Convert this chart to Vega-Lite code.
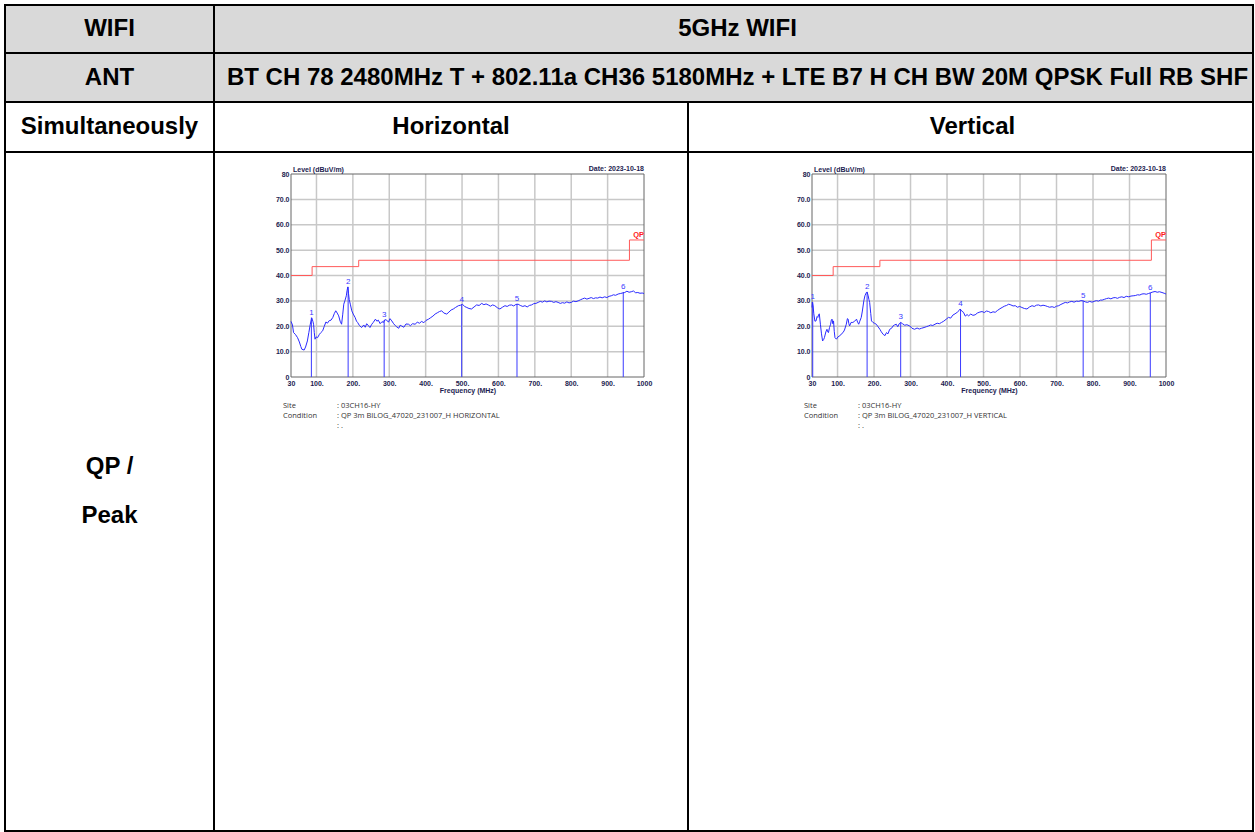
{
  "$schema": "https://vega.github.io/schema/vega-lite/v6.json",
  "padding": {"left": 4, "top": 4, "right": 0, "bottom": 0},
  "spacing": 0,
  "columns": 2,
  "bounds": "flush",
  "align": "each",
  "config": {
    "view": {"stroke": "#000000", "strokeWidth": 2},
    "concat": {"spacing": 0},
    "text": {"font": "Liberation Sans", "fontWeight": "bold", "fontSize": 24, "color": "#000000"},
    "axis": {"labelFont": "Liberation Sans", "labelFontWeight": "bold", "labelFontSize": 7, "labelColor": "#1c1c50", "ticks": false, "domain": false, "grid": false, "labelPadding": 2, "labelOverlap": false, "labelFlush": false, "titleFont": "Liberation Sans", "titleFontWeight": "bold", "titleFontSize": 7, "titleColor": "#1c1c50", "titlePadding": 0}
  },
  "datasets": {
    "limit": [
      {"f": 30, "v": 40}, {"f": 88, "v": 43.5}, {"f": 216, "v": 46}, {"f": 960, "v": 54}, {"f": 1000, "v": 54}
    ],
    "xgrid": [{"f": 100}, {"f": 200}, {"f": 300}, {"f": 400}, {"f": 500}, {"f": 600}, {"f": 700}, {"f": 800}, {"f": 900}],
    "ygrid": [{"v": 10}, {"v": 20}, {"v": 30}, {"v": 40}, {"v": 50}, {"v": 60}, {"v": 70}],
    "h_markers": [
      {"n": "1", "f": 86, "v": 23.4}, {"n": "2", "f": 187, "v": 35.5}, {"n": "3", "f": 286, "v": 22.4},
      {"n": "4", "f": 499, "v": 28.5}, {"n": "5", "f": 651, "v": 28.8}, {"n": "6", "f": 943, "v": 33.5}
    ],
    "v_markers": [
      {"n": "1", "f": 32, "v": 29.5}, {"n": "2", "f": 181, "v": 33.5}, {"n": "3", "f": 273, "v": 21.5},
      {"n": "4", "f": 437, "v": 26.8}, {"n": "5", "f": 773, "v": 30.0}, {"n": "6", "f": 957, "v": 33.2}
    ],
    "h_trace": [
      {"f":30,"v":21.9},{"f":34,"v":20.5},{"f":37,"v":17.5},{"f":42,"v":16.8},{"f":48,"v":15.5},{"f":53,"v":13.8},{"f":57,"v":12.0},{"f":60,"v":10.9},{"f":63,"v":10.8},{"f":66,"v":10.6},{"f":70,"v":11.8},{"f":75,"v":14.2},{"f":79,"v":17.5},{"f":83,"v":20.8},{"f":87,"v":23.3},{"f":90,"v":22.0},{"f":92,"v":20.8},{"f":94,"v":17.5},{"f":96,"v":14.9},{"f":99,"v":15.8},{"f":103,"v":15.5},{"f":108,"v":16.8},{"f":112,"v":17.5},{"f":117,"v":18.2},{"f":121,"v":19.8},{"f":126,"v":21.7},{"f":130,"v":21.2},{"f":135,"v":22.2},{"f":140,"v":22.4},{"f":145,"v":23.5},{"f":149,"v":25.0},{"f":153,"v":26.1},{"f":157,"v":25.2},{"f":161,"v":24.1},{"f":165,"v":22.0},{"f":169,"v":20.8},{"f":172,"v":24.5},{"f":175,"v":28.7},{"f":178,"v":30.0},{"f":182,"v":32.0},{"f":184,"v":34.0},{"f":186,"v":35.5},{"f":188,"v":33.0},{"f":190,"v":30.5},{"f":193,"v":28.7},{"f":197,"v":26.1},{"f":201,"v":24.8},{"f":206,"v":23.5},{"f":210,"v":22.0},{"f":213,"v":21.5},{"f":218,"v":20.3},{"f":224,"v":19.5},{"f":230,"v":20.5},{"f":234,"v":19.6},{"f":238,"v":21.0},{"f":243,"v":20.2},{"f":247,"v":19.5},{"f":252,"v":20.8},{"f":256,"v":21.5},{"f":262,"v":22.8},{"f":266,"v":22.0},{"f":270,"v":22.4},{"f":275,"v":21.0},{"f":280,"v":21.8},{"f":284,"v":21.5},{"f":288,"v":22.6},{"f":293,"v":22.4},{"f":298,"v":21.6},{"f":302,"v":23.0},{"f":307,"v":22.1},{"f":312,"v":21.0},{"f":317,"v":20.2},{"f":321,"v":19.7},{"f":326,"v":19.2},{"f":330,"v":20.4},{"f":334,"v":20.1},{"f":340,"v":19.6},{"f":346,"v":20.9},{"f":353,"v":20.8},{"f":358,"v":20.2},{"f":364,"v":21.0},{"f":371,"v":20.8},{"f":377,"v":21.6},{"f":383,"v":21.2},{"f":389,"v":21.9},{"f":395,"v":21.4},{"f":401,"v":22.3},{"f":408,"v":22.8},{"f":414,"v":23.4},{"f":420,"v":24.0},{"f":426,"v":24.8},{"f":432,"v":25.3},{"f":438,"v":25.8},{"f":444,"v":26.1},{"f":450,"v":25.2},{"f":458,"v":24.8},{"f":464,"v":25.6},{"f":470,"v":26.4},{"f":476,"v":26.8},{"f":482,"v":27.4},{"f":490,"v":28.1},{"f":496,"v":28.3},{"f":501,"v":28.7},{"f":507,"v":27.8},{"f":513,"v":27.4},{"f":519,"v":27.0},{"f":526,"v":26.8},{"f":533,"v":27.6},{"f":540,"v":28.4},{"f":547,"v":28.2},{"f":554,"v":29.0},{"f":560,"v":28.5},{"f":566,"v":28.8},{"f":572,"v":28.4},{"f":578,"v":27.9},{"f":584,"v":28.4},{"f":590,"v":28.1},{"f":597,"v":27.3},{"f":604,"v":26.8},{"f":611,"v":27.5},{"f":618,"v":28.1},{"f":624,"v":27.8},{"f":630,"v":28.3},{"f":636,"v":28.4},{"f":642,"v":28.0},{"f":648,"v":28.6},{"f":654,"v":28.7},{"f":660,"v":28.2},{"f":667,"v":27.8},{"f":673,"v":28.1},{"f":679,"v":27.6},{"f":685,"v":28.2},{"f":691,"v":28.4},{"f":697,"v":28.9},{"f":703,"v":29.0},{"f":709,"v":29.4},{"f":715,"v":29.8},{"f":721,"v":29.5},{"f":727,"v":30.0},{"f":733,"v":29.6},{"f":739,"v":29.9},{"f":746,"v":29.8},{"f":752,"v":29.4},{"f":758,"v":29.7},{"f":764,"v":29.4},{"f":770,"v":29.0},{"f":776,"v":29.3},{"f":782,"v":29.1},{"f":788,"v":29.6},{"f":794,"v":29.2},{"f":800,"v":29.4},{"f":806,"v":29.9},{"f":813,"v":29.7},{"f":819,"v":30.0},{"f":825,"v":30.4},{"f":831,"v":30.8},{"f":837,"v":31.1},{"f":843,"v":30.7},{"f":849,"v":31.0},{"f":855,"v":31.3},{"f":861,"v":30.9},{"f":867,"v":31.2},{"f":873,"v":31.1},{"f":879,"v":31.5},{"f":885,"v":31.2},{"f":892,"v":31.6},{"f":898,"v":31.3},{"f":904,"v":31.8},{"f":910,"v":32.0},{"f":916,"v":32.4},{"f":922,"v":32.2},{"f":929,"v":32.7},{"f":935,"v":32.9},{"f":941,"v":33.1},{"f":947,"v":33.3},{"f":953,"v":33.8},{"f":959,"v":33.4},{"f":965,"v":33.6},{"f":971,"v":33.9},{"f":977,"v":33.2},{"f":983,"v":33.3},{"f":989,"v":33.0},{"f":995,"v":33.1},{"f":1000,"v":32.9}
    ],
    "v_trace": [
      {"f":30,"v":27.4},{"f":31,"v":29.5},{"f":33,"v":28.0},{"f":35,"v":24.9},{"f":38,"v":22.0},{"f":41,"v":22.1},{"f":44,"v":23.8},{"f":46,"v":23.5},{"f":48,"v":24.5},{"f":50,"v":24.9},{"f":53,"v":20.8},{"f":56,"v":17.0},{"f":59,"v":14.2},{"f":62,"v":14.8},{"f":64,"v":15.5},{"f":68,"v":17.8},{"f":71,"v":18.8},{"f":73,"v":17.8},{"f":75,"v":17.5},{"f":78,"v":19.5},{"f":81,"v":20.8},{"f":83,"v":22.5},{"f":85,"v":22.8},{"f":87,"v":21.0},{"f":89,"v":22.1},{"f":91,"v":18.0},{"f":93,"v":15.5},{"f":97,"v":14.9},{"f":101,"v":15.8},{"f":106,"v":16.2},{"f":110,"v":16.9},{"f":115,"v":17.5},{"f":119,"v":18.5},{"f":124,"v":20.8},{"f":127,"v":23.0},{"f":129,"v":22.8},{"f":131,"v":21.0},{"f":133,"v":20.1},{"f":137,"v":21.5},{"f":142,"v":21.5},{"f":147,"v":22.0},{"f":152,"v":22.8},{"f":155,"v":21.6},{"f":158,"v":20.8},{"f":161,"v":22.0},{"f":165,"v":23.5},{"f":168,"v":26.0},{"f":172,"v":30.0},{"f":175,"v":32.0},{"f":179,"v":33.3},{"f":181,"v":33.5},{"f":184,"v":32.0},{"f":186,"v":30.5},{"f":188,"v":29.4},{"f":191,"v":25.0},{"f":193,"v":22.1},{"f":197,"v":21.5},{"f":201,"v":21.2},{"f":206,"v":20.8},{"f":211,"v":19.8},{"f":216,"v":18.8},{"f":220,"v":17.8},{"f":225,"v":16.8},{"f":230,"v":16.3},{"f":234,"v":17.5},{"f":238,"v":17.0},{"f":243,"v":18.8},{"f":248,"v":19.2},{"f":252,"v":20.1},{"f":256,"v":20.5},{"f":261,"v":20.8},{"f":265,"v":19.8},{"f":269,"v":21.0},{"f":273,"v":21.5},{"f":278,"v":21.0},{"f":284,"v":20.4},{"f":290,"v":20.6},{"f":298,"v":20.1},{"f":304,"v":19.2},{"f":311,"v":18.8},{"f":318,"v":19.3},{"f":324,"v":18.9},{"f":330,"v":19.2},{"f":337,"v":19.5},{"f":343,"v":19.8},{"f":349,"v":20.1},{"f":355,"v":20.5},{"f":361,"v":20.3},{"f":367,"v":20.8},{"f":373,"v":21.2},{"f":379,"v":21.0},{"f":385,"v":21.5},{"f":391,"v":22.0},{"f":398,"v":22.8},{"f":404,"v":23.5},{"f":410,"v":23.2},{"f":416,"v":24.4},{"f":422,"v":24.9},{"f":428,"v":25.5},{"f":433,"v":26.2},{"f":436,"v":26.8},{"f":440,"v":26.0},{"f":445,"v":25.5},{"f":450,"v":24.0},{"f":455,"v":24.6},{"f":459,"v":24.1},{"f":465,"v":24.8},{"f":471,"v":24.3},{"f":477,"v":24.5},{"f":483,"v":25.2},{"f":490,"v":25.6},{"f":496,"v":25.8},{"f":502,"v":25.4},{"f":508,"v":26.0},{"f":514,"v":25.8},{"f":520,"v":25.3},{"f":526,"v":25.7},{"f":532,"v":25.5},{"f":538,"v":26.2},{"f":545,"v":26.9},{"f":551,"v":27.4},{"f":557,"v":27.9},{"f":563,"v":28.2},{"f":569,"v":28.7},{"f":575,"v":28.4},{"f":581,"v":28.0},{"f":587,"v":28.1},{"f":593,"v":27.5},{"f":599,"v":27.8},{"f":605,"v":27.4},{"f":612,"v":27.0},{"f":619,"v":26.8},{"f":626,"v":27.6},{"f":633,"v":28.1},{"f":639,"v":27.8},{"f":645,"v":28.3},{"f":651,"v":28.4},{"f":657,"v":28.0},{"f":663,"v":28.3},{"f":669,"v":28.1},{"f":675,"v":27.8},{"f":681,"v":27.5},{"f":688,"v":27.7},{"f":694,"v":27.4},{"f":700,"v":27.9},{"f":706,"v":28.1},{"f":712,"v":28.6},{"f":718,"v":29.0},{"f":724,"v":29.4},{"f":730,"v":29.2},{"f":736,"v":29.6},{"f":742,"v":29.8},{"f":748,"v":29.5},{"f":755,"v":29.9},{"f":761,"v":29.8},{"f":767,"v":30.1},{"f":773,"v":30.0},{"f":779,"v":29.6},{"f":785,"v":29.4},{"f":791,"v":29.8},{"f":797,"v":29.5},{"f":803,"v":29.8},{"f":809,"v":30.1},{"f":815,"v":29.9},{"f":820,"v":30.3},{"f":825,"v":30.3},{"f":831,"v":30.6},{"f":837,"v":30.9},{"f":843,"v":31.1},{"f":849,"v":30.8},{"f":855,"v":31.2},{"f":861,"v":31.3},{"f":867,"v":31.0},{"f":873,"v":31.4},{"f":879,"v":31.6},{"f":885,"v":31.3},{"f":891,"v":31.8},{"f":898,"v":31.6},{"f":904,"v":31.9},{"f":910,"v":32.0},{"f":916,"v":32.1},{"f":922,"v":32.4},{"f":928,"v":32.3},{"f":934,"v":32.7},{"f":940,"v":32.8},{"f":946,"v":32.6},{"f":952,"v":32.9},{"f":958,"v":33.2},{"f":964,"v":33.5},{"f":970,"v":33.7},{"f":976,"v":33.4},{"f":982,"v":33.6},{"f":989,"v":33.3},{"f":995,"v":33.0},{"f":1000,"v":32.7}
    ]
  },
  "concat": [
    {"width": 209, "height": 48, "view": {"fill": "#d9d9d9", "stroke": "#000000", "strokeWidth": 2}, "data": {"values": [{"t": "WIFI"}]}, "mark": {"type": "text"}, "encoding": {"text": {"field": "t"}}},
    {"width": 1039, "height": 48, "view": {"fill": "#d9d9d9", "stroke": "#000000", "strokeWidth": 2}, "data": {"values": [{"t": "5GHz WIFI"}]}, "mark": {"type": "text", "dx": 4}, "encoding": {"text": {"field": "t"}}},
    {"width": 209, "height": 49, "view": {"fill": "#d9d9d9", "stroke": "#000000", "strokeWidth": 2}, "data": {"values": [{"t": "ANT"}]}, "mark": {"type": "text"}, "encoding": {"text": {"field": "t"}}},
    {"width": 1039, "height": 49, "view": {"fill": "#d9d9d9", "stroke": "#000000", "strokeWidth": 2}, "data": {"values": [{"t": "BT CH 78 2480MHz T + 802.11a CH36 5180MHz + LTE B7 H CH BW 20M QPSK Full RB SHF"}]}, "mark": {"type": "text", "dx": 4}, "encoding": {"text": {"field": "t"}}},
    {"width": 209, "height": 50, "view": {"stroke": "#000000", "strokeWidth": 2}, "data": {"values": [{"t": "Simultaneously"}]}, "mark": {"type": "text"}, "encoding": {"text": {"field": "t"}}},
    {
      "spacing": 0, "bounds": "flush",
      "hconcat": [
        {"width": 474, "height": 50, "view": {"stroke": "#000000", "strokeWidth": 2}, "data": {"values": [{"t": "Horizontal"}]}, "mark": {"type": "text"}, "encoding": {"text": {"field": "t"}}},
        {"width": 565, "height": 50, "view": {"stroke": "#000000", "strokeWidth": 2}, "data": {"values": [{"t": "Vertical"}]}, "mark": {"type": "text", "dx": 2}, "encoding": {"text": {"field": "t"}}}
      ]
    },
    {"width": 209, "height": 679, "view": {"stroke": "#000000", "strokeWidth": 2}, "data": {"values": [{"t": "QP /\nPeak"}]}, "mark": {"type": "text", "lineBreak": "\n", "lineHeight": 49, "dy": -24.5}, "encoding": {"text": {"field": "t"}}},
    {
      "spacing": 0, "bounds": "flush",
      "hconcat": [
        {
          "width": 474, "height": 679,
          "view": {"stroke": "#000000", "strokeWidth": 2},
          "layer": [
            {"data": {"name": "xgrid"}, "mark": {"type": "rule", "color": "#c8c8c8", "strokeWidth": 1.5},
             "encoding": {
               "x": {"field": "f", "type": "quantitative", "scale": {"domain": [30, 1000], "range": [77, 430], "nice": false, "zero": false},
                     "axis": {"values": [30, 100, 200, 300, 400, 500, 600, 700, 800, 900, 1000], "labelExpr": "datum.value == 30 ? '30' : datum.value == 1000 ? '1000' : datum.value + '.'", "offset": -454, "title": "Frequency (MHz)"}},
               "y": {"datum": 0, "type": "quantitative", "scale": {"domain": [0, 80], "range": [225, 22], "nice": false},
                     "axis": {"values": [0, 10, 20, 30, 40, 50, 60, 70, 80], "labelExpr": "datum.value == 0 ? '0' : datum.value == 80 ? '80' : format(datum.value, '.1f')", "offset": -77, "title": null}},
               "y2": {"datum": 80}
             }},
            {"data": {"name": "ygrid"}, "mark": {"type": "rule", "color": "#c8c8c8", "strokeWidth": 1.5},
             "encoding": {"y": {"field": "v", "type": "quantitative"}, "x": {"datum": 30, "type": "quantitative"}, "x2": {"datum": 1000}}},
            {"data": {"values": [{"t": ""}]}, "mark": {"type": "rect", "fill": null, "fillOpacity": 0, "stroke": "#666666", "strokeWidth": 1},
             "encoding": {"x": {"datum": 30, "type": "quantitative"}, "x2": {"datum": 1000}, "y": {"datum": 0, "type": "quantitative"}, "y2": {"datum": 80}}},
            {"data": {"name": "limit"}, "mark": {"type": "line", "interpolate": "step-after", "color": "#ff5a5a", "strokeWidth": 1},
             "encoding": {"x": {"field": "f", "type": "quantitative"}, "y": {"field": "v", "type": "quantitative"}}},
            {"data": {"name": "h_markers"}, "mark": {"type": "rule", "color": "#3a3aff", "strokeWidth": 1},
             "encoding": {"x": {"field": "f", "type": "quantitative"}, "y": {"field": "v", "type": "quantitative"}, "y2": {"datum": 0}}},
            {"data": {"name": "h_trace"}, "mark": {"type": "line", "color": "#2a2aff", "strokeWidth": 1},
             "encoding": {"x": {"field": "f", "type": "quantitative"}, "y": {"field": "v", "type": "quantitative"}}},
            {"data": {"name": "h_markers"}, "mark": {"type": "text", "font": "Liberation Sans", "fontWeight": "normal", "fontSize": 8, "color": "#3a3aff", "baseline": "bottom", "dy": -1},
             "encoding": {"x": {"field": "f", "type": "quantitative"}, "y": {"field": "v", "type": "quantitative"}, "text": {"field": "n"}}},
            {"data": {"values": [{"t": "QP"}]}, "mark": {"type": "text", "font": "Liberation Sans", "fontSize": 7.5, "color": "#ff2020", "align": "right", "baseline": "bottom", "dy": -1},
             "encoding": {"x": {"datum": 1000, "type": "quantitative"}, "y": {"datum": 54, "type": "quantitative"}, "text": {"field": "t"}}},
            {"data": {"values": [{"t": "Level (dBuV/m)"}]}, "mark": {"type": "text", "font": "Liberation Sans", "fontSize": 7, "color": "#1c1c50", "align": "left", "baseline": "bottom", "dx": 2, "dy": -1},
             "encoding": {"x": {"datum": 30, "type": "quantitative"}, "y": {"datum": 80, "type": "quantitative"}, "text": {"field": "t"}}},
            {"data": {"values": [{"t": "Date: 2023-10-18"}]}, "mark": {"type": "text", "font": "Liberation Sans", "fontSize": 7, "color": "#1c1c50", "align": "right", "baseline": "bottom", "dy": -2},
             "encoding": {"x": {"datum": 1000, "type": "quantitative"}, "y": {"datum": 80, "type": "quantitative"}, "text": {"field": "t"}}},
            {"data": {"values": [{"t": "Site\nCondition"}]}, "mark": {"type": "text", "font": "Open Sans", "fontWeight": "normal", "fontSize": 7.5, "color": "#333333", "align": "left", "baseline": "alphabetic", "lineBreak": "\n", "lineHeight": 10, "dx": -8, "dy": 31},
             "encoding": {"x": {"datum": 30, "type": "quantitative"}, "y": {"datum": 0, "type": "quantitative"}, "text": {"field": "t"}}},
            {"data": {"values": [{"t": ": 03CH16-HY\n: QP 3m BILOG_47020_231007_H HORIZONTAL\n: ."}]}, "mark": {"type": "text", "font": "Open Sans", "fontWeight": "normal", "fontSize": 7.5, "color": "#333333", "align": "left", "baseline": "alphabetic", "lineBreak": "\n", "lineHeight": 10, "dx": 46, "dy": 31},
             "encoding": {"x": {"datum": 30, "type": "quantitative"}, "y": {"datum": 0, "type": "quantitative"}, "text": {"field": "t"}}}
          ]
        },
        {
          "width": 565, "height": 679,
          "view": {"stroke": "#000000", "strokeWidth": 2},
          "layer": [
            {"data": {"name": "xgrid"}, "mark": {"type": "rule", "color": "#c8c8c8", "strokeWidth": 1.5},
             "encoding": {
               "x": {"field": "f", "type": "quantitative", "scale": {"domain": [30, 1000], "range": [124, 478], "nice": false, "zero": false},
                     "axis": {"values": [30, 100, 200, 300, 400, 500, 600, 700, 800, 900, 1000], "labelExpr": "datum.value == 30 ? '30' : datum.value == 1000 ? '1000' : datum.value + '.'", "offset": -454, "title": "Frequency (MHz)"}},
               "y": {"datum": 0, "type": "quantitative", "scale": {"domain": [0, 80], "range": [225, 22], "nice": false},
                     "axis": {"values": [0, 10, 20, 30, 40, 50, 60, 70, 80], "labelExpr": "datum.value == 0 ? '0' : datum.value == 80 ? '80' : format(datum.value, '.1f')", "offset": -124, "title": null}},
               "y2": {"datum": 80}
             }},
            {"data": {"name": "ygrid"}, "mark": {"type": "rule", "color": "#c8c8c8", "strokeWidth": 1.5},
             "encoding": {"y": {"field": "v", "type": "quantitative"}, "x": {"datum": 30, "type": "quantitative"}, "x2": {"datum": 1000}}},
            {"data": {"values": [{"t": ""}]}, "mark": {"type": "rect", "fill": null, "fillOpacity": 0, "stroke": "#666666", "strokeWidth": 1},
             "encoding": {"x": {"datum": 30, "type": "quantitative"}, "x2": {"datum": 1000}, "y": {"datum": 0, "type": "quantitative"}, "y2": {"datum": 80}}},
            {"data": {"name": "limit"}, "mark": {"type": "line", "interpolate": "step-after", "color": "#ff5a5a", "strokeWidth": 1},
             "encoding": {"x": {"field": "f", "type": "quantitative"}, "y": {"field": "v", "type": "quantitative"}}},
            {"data": {"name": "v_markers"}, "mark": {"type": "rule", "color": "#3a3aff", "strokeWidth": 1},
             "encoding": {"x": {"field": "f", "type": "quantitative"}, "y": {"field": "v", "type": "quantitative"}, "y2": {"datum": 0}}},
            {"data": {"name": "v_trace"}, "mark": {"type": "line", "color": "#2a2aff", "strokeWidth": 1},
             "encoding": {"x": {"field": "f", "type": "quantitative"}, "y": {"field": "v", "type": "quantitative"}}},
            {"data": {"name": "v_markers"}, "mark": {"type": "text", "font": "Liberation Sans", "fontWeight": "normal", "fontSize": 8, "color": "#3a3aff", "baseline": "bottom", "dy": -1},
             "encoding": {"x": {"field": "f", "type": "quantitative"}, "y": {"field": "v", "type": "quantitative"}, "text": {"field": "n"}}},
            {"data": {"values": [{"t": "QP"}]}, "mark": {"type": "text", "font": "Liberation Sans", "fontSize": 7.5, "color": "#ff2020", "align": "right", "baseline": "bottom", "dy": -1},
             "encoding": {"x": {"datum": 1000, "type": "quantitative"}, "y": {"datum": 54, "type": "quantitative"}, "text": {"field": "t"}}},
            {"data": {"values": [{"t": "Level (dBuV/m)"}]}, "mark": {"type": "text", "font": "Liberation Sans", "fontSize": 7, "color": "#1c1c50", "align": "left", "baseline": "bottom", "dx": 2, "dy": -1},
             "encoding": {"x": {"datum": 30, "type": "quantitative"}, "y": {"datum": 80, "type": "quantitative"}, "text": {"field": "t"}}},
            {"data": {"values": [{"t": "Date: 2023-10-18"}]}, "mark": {"type": "text", "font": "Liberation Sans", "fontSize": 7, "color": "#1c1c50", "align": "right", "baseline": "bottom", "dy": -2},
             "encoding": {"x": {"datum": 1000, "type": "quantitative"}, "y": {"datum": 80, "type": "quantitative"}, "text": {"field": "t"}}},
            {"data": {"values": [{"t": "Site\nCondition"}]}, "mark": {"type": "text", "font": "Open Sans", "fontWeight": "normal", "fontSize": 7.5, "color": "#333333", "align": "left", "baseline": "alphabetic", "lineBreak": "\n", "lineHeight": 10, "dx": -8, "dy": 31},
             "encoding": {"x": {"datum": 30, "type": "quantitative"}, "y": {"datum": 0, "type": "quantitative"}, "text": {"field": "t"}}},
            {"data": {"values": [{"t": ": 03CH16-HY\n: QP 3m BILOG_47020_231007_H VERTICAL\n: ."}]}, "mark": {"type": "text", "font": "Open Sans", "fontWeight": "normal", "fontSize": 7.5, "color": "#333333", "align": "left", "baseline": "alphabetic", "lineBreak": "\n", "lineHeight": 10, "dx": 46, "dy": 31},
             "encoding": {"x": {"datum": 30, "type": "quantitative"}, "y": {"datum": 0, "type": "quantitative"}, "text": {"field": "t"}}}
          ]
        }
      ]
    }
  ]
}
